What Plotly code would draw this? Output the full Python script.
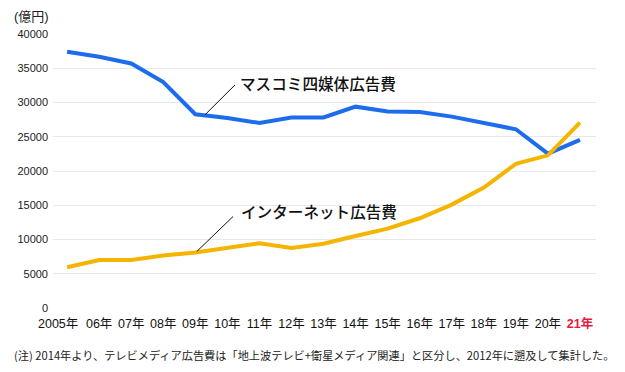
import plotly.graph_objects as go

years = ["2005年", "06年", "07年", "08年", "09年", "10年", "11年", "12年", "13年",
         "14年", "15年", "16年", "17年", "18年", "19年", "20年", "21年"]
mass_media = [37408, 36668, 35699, 32995, 28282, 27749, 27016, 27796, 27825,
              29393, 28699, 28596, 27938, 27026, 26094, 22536, 24538]
internet = [5950, 7000, 7000, 7650, 8100, 8750, 9450, 8750, 9381,
            10519, 11594, 13100, 15094, 17589, 21048, 22290, 27052]
y_ticks = [0, 5000, 10000, 15000, 20000, 25000, 30000, 35000, 40000]

x_idx = list(range(len(years)))
# first label is drawn as an annotation, nudged left as in the original
tick_text = ([""] + years[1:-1]
             + ["<b><span style='color:#e8173c'>%s</span></b>" % years[-1]])

FONT = "Arial, 'Liberation Sans', 'Noto Sans CJK JP', sans-serif"
JP = "'Noto Sans CJK JP', sans-serif"

fig = go.Figure()
fig.add_trace(go.Scatter(x=x_idx, y=mass_media, mode="lines", name="マスコミ四媒体広告費",
                         line=dict(color="#1d6cec", width=4), showlegend=False))
fig.add_trace(go.Scatter(x=x_idx, y=internet, mode="lines", name="インターネット広告費",
                         line=dict(color="#f4b400", width=4), showlegend=False))

# leader lines
fig.add_shape(type="line", xref="x", yref="y", x0=4.30, y0=28200, x1=5.24, y1=32575,
              line=dict(color="#111111", width=1))
fig.add_shape(type="line", xref="x", yref="y", x0=4.05, y0=8270, x1=5.18, y1=13370,
              line=dict(color="#111111", width=1))

fig.add_annotation(x=5.33, y=32870, xref="x", yref="y", text="マスコミ四媒体広告費",
                   showarrow=False, xanchor="left", yanchor="middle",
                   font=dict(family=JP, size=15.6, color="#111111", weight=500))
fig.add_annotation(x=5.36, y=14100, xref="x", yref="y", text="インターネット広告費",
                   showarrow=False, xanchor="left", yanchor="middle",
                   font=dict(family=JP, size=15.6, color="#111111", weight=500))

W = 543.0
H = 274.0
fig.add_annotation(x=x_idx[0], y=-(323.5 - 308.0) / H, xref="x", yref="paper", text=years[0],
                   showarrow=False, xanchor="center", yanchor="middle", xshift=-9,
                   font=dict(family=FONT, size=12.5, color="#111111"))
fig.add_annotation(x=(12 - 53) / W, y=1 + 17.0 / H, xref="paper", yref="paper", text="(億円)",
                   showarrow=False, xanchor="left", yanchor="middle",
                   font=dict(family=FONT, size=13, color="#222222"))
fig.add_annotation(x=(12 - 53) / W, y=-(355 - 308.0) / H, xref="paper", yref="paper",
                   text="(注) 2014年より、テレビメディア広告費は「地上波テレビ+衛星メディア関連」と区分し、2012年に遡及して集計した。",
                   showarrow=False, xanchor="left", yanchor="middle",
                   font=dict(family=JP, size=11.2, color="#222222"))

# page body has an 8px margin: plot area on screen x 53-596, y 34-308
fig.update_layout(
    width=625, height=372,
    margin=dict(l=45, r=37, t=26, b=72, autoexpand=False),
    paper_bgcolor="white", plot_bgcolor="white",
    font=dict(family=FONT, size=11, color="#222222"),
    xaxis=dict(tickmode="array", tickvals=x_idx, ticktext=tick_text, tickangle=0,
               range=[-0.44, 16.5], showgrid=False, zeroline=False, showline=False,
               ticks="", automargin=False, ticklabelstandoff=6,
               tickfont=dict(family=FONT, size=12.5, color="#111111")),
    yaxis=dict(tickmode="array", tickvals=y_ticks, ticktext=[str(v) for v in y_ticks],
               range=[0, 40000], showgrid=True, gridcolor="#e8e8e8", gridwidth=1,
               zeroline=False, showline=False, ticks="", ticklabelstandoff=4,
               automargin=False,
               tickfont=dict(family=FONT, size=11, color="#222222")),
)

fig.write_html("out.html")
